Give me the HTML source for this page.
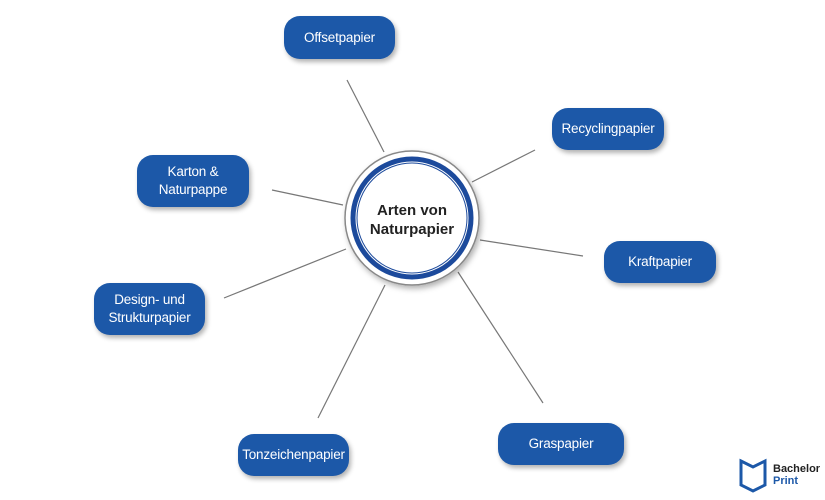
<!DOCTYPE html>
<html><head><style>
body{margin:0;width:825px;height:500px;background:#fff;position:relative;overflow:hidden;font-family:"Liberation Sans",sans-serif}
.p{position:absolute;background:#1c58a8;color:#fff;border-radius:16px;display:flex;align-items:center;justify-content:center;text-align:center;font-size:13.5px;letter-spacing:-0.2px;line-height:18px;box-shadow:2px 3px 5px rgba(0,0,0,.3)}
</style></head><body>
<svg width="825" height="500" style="position:absolute;left:0;top:0">
<g stroke="#777" stroke-width="1.2">
<line x1="347" y1="80" x2="384" y2="152"/>
<line x1="535" y1="150" x2="472" y2="182"/>
<line x1="480" y1="240" x2="583" y2="256"/>
<line x1="458" y1="272" x2="543" y2="403"/>
<line x1="385" y1="285" x2="318" y2="418"/>
<line x1="224" y1="298" x2="346" y2="249"/>
<line x1="272" y1="190" x2="343" y2="205"/>
</g>
<defs><filter id="s"><feDropShadow dx="2" dy="3" stdDeviation="3" flood-opacity=".3"/></filter></defs>
<circle cx="412" cy="218" r="67" fill="#fff" stroke="#888" stroke-width="1.5" filter="url(#s)"/>
<circle cx="412" cy="218" r="59" fill="none" stroke="#1c4a9c" stroke-width="5"/>
<circle cx="412" cy="218" r="55" fill="none" stroke="#1c4a9c" stroke-width="1"/>
<text x="412" y="215" text-anchor="middle" font-family="Liberation Sans" font-weight="bold" font-size="15" fill="#222">Arten von</text>
<text x="412" y="234" text-anchor="middle" font-family="Liberation Sans" font-weight="bold" font-size="15" fill="#222">Naturpapier</text>
<g transform="translate(739,457)" fill="none" stroke="#1c58a8" stroke-width="3">
<path d="M2 4 L14 10 L26 4 V28 L14 34 L2 28 Z"/>
</g>
<text x="773" y="472" font-family="Liberation Sans" font-weight="bold" font-size="11" fill="#222">Bachelor</text>
<text x="773" y="484" font-family="Liberation Sans" font-weight="bold" font-size="11" fill="#1c58a8">Print</text>
</svg>
<div class="p" style="left:284px;top:16px;width:111px;height:43px">Offsetpapier</div>
<div class="p" style="left:552px;top:108px;width:112px;height:42px">Recyclingpapier</div>
<div class="p" style="left:604px;top:241px;width:112px;height:42px">Kraftpapier</div>
<div class="p" style="left:498px;top:423px;width:126px;height:42px">Graspapier</div>
<div class="p" style="left:238px;top:434px;width:111px;height:42px">Tonzeichenpapier</div>
<div class="p" style="left:94px;top:283px;width:111px;height:52px">Design- und<br>Strukturpapier</div>
<div class="p" style="left:137px;top:155px;width:112px;height:52px">Karton &amp;<br>Naturpappe</div>
</body></html>
